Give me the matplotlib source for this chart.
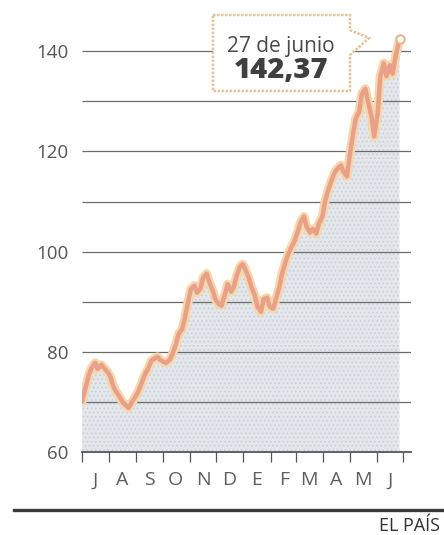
import matplotlib
matplotlib.use("Agg")
import matplotlib.pyplot as plt
import pandas as pd
from matplotlib.patches import Polygon
from matplotlib.lines import Line2D

plt.rcParams["font.family"] = ["Open Sans", "DejaVu Sans"]
plt.rcParams["hatch.linewidth"] = 0.6

W, H = 444, 535

# Brent crude, Jul 2007 - Jun 2008
dates = [
    "2007-07-01", "2007-07-03", "2007-07-06", "2007-07-09", "2007-07-12", "2007-07-16",
    "2007-07-19", "2007-07-23", "2007-07-26", "2007-07-30", "2007-08-02", "2007-08-06",
    "2007-08-09", "2007-08-13", "2007-08-16", "2007-08-20", "2007-08-23", "2007-08-27",
    "2007-08-30", "2007-09-03", "2007-09-07", "2007-09-11", "2007-09-14", "2007-09-18",
    "2007-09-21", "2007-09-25", "2007-09-28", "2007-10-02", "2007-10-05", "2007-10-09",
    "2007-10-12", "2007-10-16", "2007-10-19", "2007-10-23", "2007-10-26", "2007-10-30",
    "2007-11-02", "2007-11-06", "2007-11-09", "2007-11-13", "2007-11-16", "2007-11-20",
    "2007-11-23", "2007-11-27", "2007-11-30", "2007-12-04", "2007-12-07", "2007-12-11",
    "2007-12-14", "2007-12-18", "2007-12-21", "2007-12-24", "2007-12-28", "2007-12-31",
    "2008-01-03", "2008-01-07", "2008-01-10", "2008-01-14", "2008-01-17", "2008-01-21",
    "2008-01-24", "2008-01-28", "2008-01-31", "2008-02-04", "2008-02-07", "2008-02-11",
    "2008-02-14", "2008-02-18", "2008-02-21", "2008-02-25", "2008-02-28", "2008-03-03",
    "2008-03-06", "2008-03-10", "2008-03-13", "2008-03-17", "2008-03-20", "2008-03-24",
    "2008-03-27", "2008-03-31", "2008-04-03", "2008-04-07", "2008-04-10", "2008-04-14",
    "2008-04-17", "2008-04-21", "2008-04-24", "2008-04-28", "2008-05-01", "2008-05-05",
    "2008-05-08", "2008-05-12", "2008-05-15", "2008-05-19", "2008-05-22", "2008-05-26",
    "2008-05-29", "2008-06-02", "2008-06-05", "2008-06-09", "2008-06-12", "2008-06-16",
    "2008-06-19", "2008-06-23", "2008-06-27",
]
values = [
    70.0, 71.5, 73.5, 75.5, 76.8, 77.8,
    76.6, 77.4, 76.8, 76.0, 75.2, 73.0,
    72.0, 71.0, 70.0, 69.3, 68.8, 70.0,
    70.8, 72.0, 73.8, 75.6, 76.5, 78.2,
    78.6, 79.0, 78.4, 78.0, 77.8, 78.4,
    79.5, 81.5, 83.5, 84.5, 86.5, 90.0,
    92.5, 93.2, 91.8, 92.6, 94.8, 95.6,
    94.0, 92.2, 90.5, 89.5, 89.2, 91.5,
    93.5, 92.0, 93.0, 95.0, 97.0, 97.5,
    96.5, 94.8, 93.0, 91.2, 89.0, 88.0,
    90.5, 90.8, 89.0, 88.6, 90.5, 93.0,
    95.5, 98.0, 99.5, 101.0, 102.0, 104.0,
    105.8, 107.0, 105.0, 103.8, 104.5, 103.6,
    105.6, 107.0, 110.0, 112.5, 114.0, 115.8,
    116.5, 117.2, 116.0, 115.0, 119.0, 123.5,
    126.5, 128.0, 131.5, 132.5, 130.0, 127.0,
    123.0, 127.5, 135.0, 137.6, 135.0, 137.2,
    135.5, 139.5, 142.37,
]
yticks = [60, 80, 100, 120, 140]
grid_levels = [70, 80, 90, 100, 110, 120, 130, 140]
month_labels = ["J", "A", "S", "O", "N", "D", "E", "F", "M", "A", "M", "J"]
label_date = "27 de junio"
label_value = "142,37"

x = pd.to_datetime(dates)
months = pd.date_range("2007-07-01", "2008-07-01", freq="MS")
mids = months[:-1] + pd.Timedelta(days=15)

fig = plt.figure(figsize=(W / 100, H / 100), dpi=100)
fig.patch.set_facecolor("white")


def px(xp, yp):
    return xp / W, 1 - yp / H


ax = fig.add_axes([82 / W, (H - 452) / H, 329 / W, 452 / H])
ax.set_ylim(60, 60 + 452 / 5.01)
ax.set_xlim(pd.Timestamp("2007-07-01"), pd.Timestamp("2008-07-10"))
for s in ax.spines.values():
    s.set_visible(False)
ax.patch.set_alpha(0)

ax.fill_between(x, 60, values, facecolor="#e3e6ea", edgecolor="#c8cdd4",
                hatch="....", linewidth=0, zorder=1)
ax.hlines(grid_levels, *ax.get_xlim(), color="#6b6b6b", lw=0.9, zorder=2)
ax.axhline(60, color="#555555", lw=1.3, zorder=2, clip_on=False)

ax.plot(x, values, color="#f7d6a8", lw=6.5, solid_capstyle="round", zorder=3)
ax.plot(x, values, color="#e8a08a", lw=3.2, solid_capstyle="round", zorder=4)
ax.plot(x[-1:], values[-1:], "o", ms=6, mfc="white", mec="#e8b68f", mew=1.5, zorder=5)

ax.set_xticks(months)
ax.set_xticks(mids, minor=True)
ax.xaxis.set_major_formatter(plt.NullFormatter())
ax.set_xticklabels(month_labels, minor=True)
ax.tick_params(axis="x", which="major", direction="out", length=7, width=0.9, color="#555555")
ax.tick_params(axis="x", which="minor", length=0, pad=14, labelsize=14, labelcolor="#5e5e5e")
ax.set_yticks(yticks)
ax.tick_params(axis="y", length=0, pad=9.5, labelsize=13.5, labelcolor="#555555")

# callout box with pointer
box = [(213, 15), (350, 15), (350, 30), (369, 38), (350, 55), (350, 91), (213, 91)]
fig.patches.append(Polygon([px(a, b) for a, b in box], closed=True, transform=fig.transFigure,
                           facecolor="white", edgecolor="#e6c193", lw=1.8, ls=(0, (1, 0.6)),
                           zorder=10))
fig.text(*px(281, 47), label_date, ha="center", va="center", fontsize=15,
         color="#4a4a4a", zorder=11)
fig.text(*px(281, 70), label_value, ha="center", va="center", fontsize=21,
         fontweight="heavy", color="#3f3f3f", zorder=11)

fig.lines.append(Line2D([14 / W, 1], [1 - 510 / H] * 2, transform=fig.transFigure,
                        color="#3a3a3a", lw=2.4))
fig.text(*px(379, 526), "EL PAÍS", ha="left", va="center", fontsize=13, color="#333333")

fig.savefig("out.png", dpi=100)
